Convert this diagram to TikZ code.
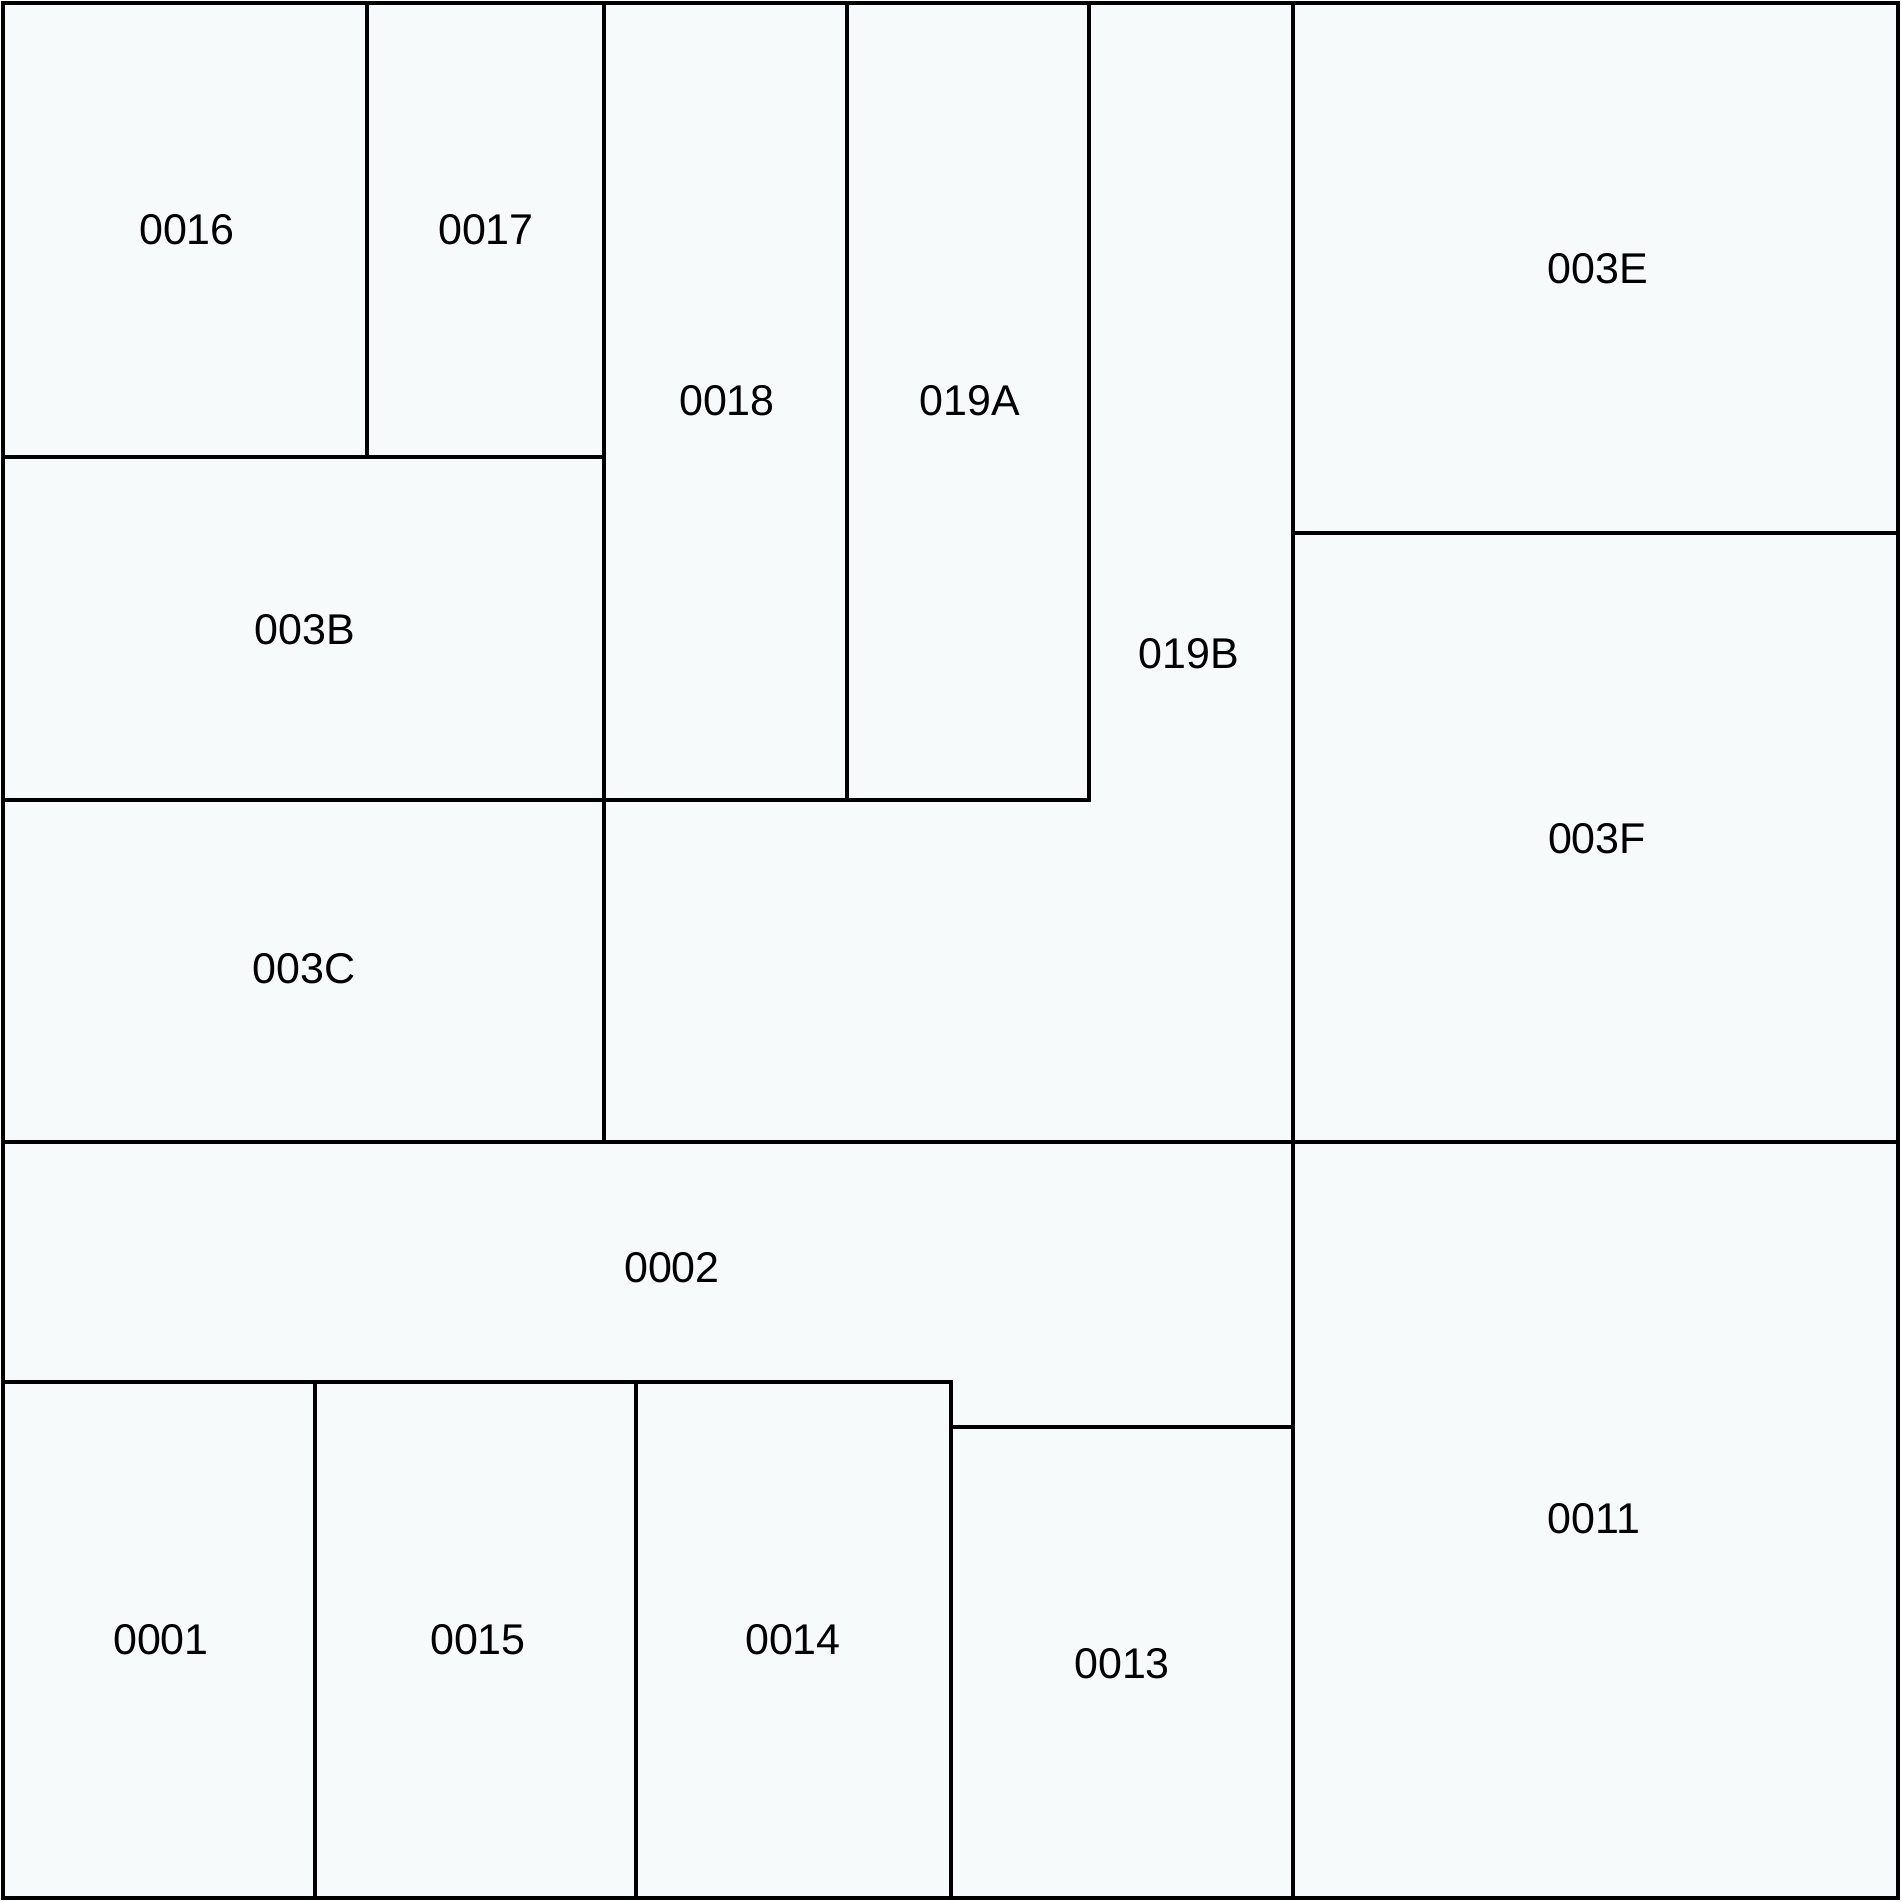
\documentclass[tikz,border=0pt]{standalone}
\usepackage{fontspec}
\setmainfont{Liberation Sans}
\definecolor{roomfill}{HTML}{F7FAFB}
\tikzset{
  room/.style={draw=black, fill=roomfill, line width=4.5pt},
  roomlabel/.style={font=\fontsize{43}{50}\selectfont, text=black, inner sep=0pt}
}
\begin{document}
\begin{tikzpicture}[x=1pt,y=-1pt]
\useasboundingbox (0,0) rectangle (1902,1902);
\fill[white] (0,0) rectangle (1902,1902);
% rooms
\draw[room] (3,3) rectangle (367,457);
\draw[room] (367,3) rectangle (604,457);
\draw[room] (3,457) rectangle (604,800);
\draw[room] (3,800) rectangle (604,1142);
\draw[room] (604,3) rectangle (847,800);
\draw[room] (847,3) rectangle (1089,800);
\draw[room] (1089,3) -- (1293,3) -- (1293,1142) -- (604,1142) -- (604,800) -- (1089,800) -- cycle;
\draw[room] (1293,3) rectangle (1898,533);
\draw[room] (1293,533) rectangle (1898,1142);
\draw[room] (1293,1142) rectangle (1898,1898);
\draw[room] (3,1142) -- (1293,1142) -- (1293,1427) -- (951,1427) -- (951,1382) -- (3,1382) -- cycle;
\draw[room] (3,1382) rectangle (315,1898);
\draw[room] (315,1382) rectangle (636,1898);
\draw[room] (636,1382) rectangle (951,1898);
\draw[room] (951,1427) rectangle (1293,1898);
% labels
\node[roomlabel] (l0016) at (187,230) {0016};
\node[roomlabel] (l0017) at (486,230) {0017};
\node[roomlabel] (l003B) at (305,630) {003B};
\node[roomlabel] (l003C) at (304,969) {003C};
\node[roomlabel] (l0018) at (727,401) {0018};
\node[roomlabel] (l019A) at (970,401) {019A};
\node[roomlabel] (l019B) at (1189,654) {019B};
\node[roomlabel] (l003E) at (1598,269) {003E};
\node[roomlabel] (l003F) at (1597,839) {003F};
\node[roomlabel] (l0011) at (1594,1519) {0011};
\node[roomlabel] (l0002) at (672,1268) {0002};
\node[roomlabel] (l0001) at (161,1640) {0001};
\node[roomlabel] (l0015) at (478,1640) {0015};
\node[roomlabel] (l0014) at (793,1640) {0014};
\node[roomlabel] (l0013) at (1122,1664) {0013};
\end{tikzpicture}
\end{document}
